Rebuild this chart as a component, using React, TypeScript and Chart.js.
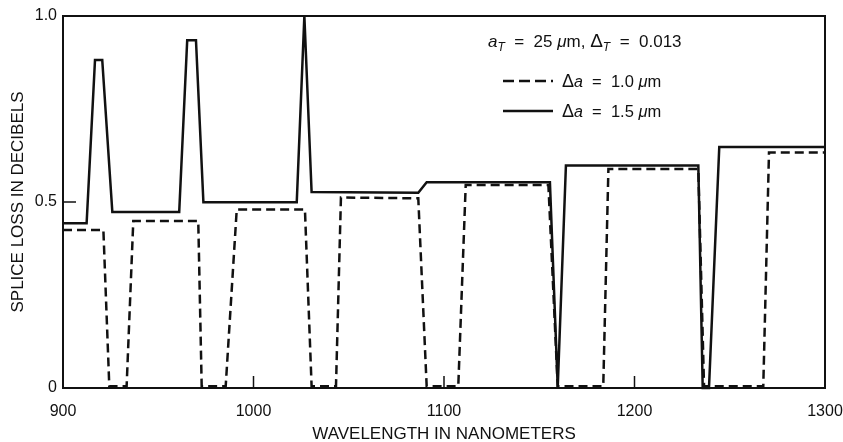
import React, { useEffect, useRef } from "react";
import { Chart, registerables } from "chart.js";

Chart.register(...registerables);

const xTicks = [900, 1000, 1100, 1200, 1300];
const yTicks = [0, 0.5, 1.0];
const yTickLabels = ["0", "0.5", "1.0"];
const innerXTicks = [1000, 1100, 1200];
const innerYTicks = [0.5];

// Δa = 1.0 µm (dashed)
const dashedWavelength = [900, 921.2, 924.3, 933.4, 936.9, 971.0, 972.8, 985.4, 991.2, 1027.0, 1030.5, 1043.3, 1045.9, 1086.5, 1090.9, 1107.5, 1111.4, 1154.8, 1159.7, 1183.6, 1186.3, 1233.5, 1236.5, 1267.6, 1270.6, 1300];
const dashedLoss = [0.425, 0.425, 0.005, 0.005, 0.449, 0.449, 0.005, 0.005, 0.48, 0.48, 0.005, 0.005, 0.512, 0.51, 0.005, 0.005, 0.546, 0.546, 0.005, 0.005, 0.589, 0.589, 0.005, 0.005, 0.633, 0.633];

// Δa = 1.5 µm (solid)
const solidWavelength = [900, 912.4, 916.8, 920.6, 925.9, 961.0, 965.2, 969.8, 973.7, 1022.7, 1026.7, 1030.5, 1086.5, 1090.9, 1155.6, 1159.7, 1164.0, 1233.5, 1235.8, 1239.1, 1244.5, 1300];
const solidLoss = [0.443, 0.443, 0.882, 0.882, 0.473, 0.473, 0.935, 0.935, 0.499, 0.499, 1.0, 0.527, 0.525, 0.553, 0.553, 0.002, 0.598, 0.598, 0.0, 0.0, 0.648, 0.648];

const FAMILY = '"Liberation Sans", Arial, Helvetica, sans-serif';
const INK = "#111";

const zip = (xs: number[], ys: number[]) => xs.map((x, i) => ({ x, y: ys[i] }));

const framePlugin = {
  id: "frameAndLegend",
  afterDraw(chart: any) {
    const { ctx, chartArea } = chart;
    const xs = chart.scales.x;
    const ys = chart.scales.y;
    ctx.save();
    ctx.strokeStyle = INK;
    ctx.lineWidth = 2;
    ctx.strokeRect(chartArea.left, chartArea.top, chartArea.right - chartArea.left, chartArea.bottom - chartArea.top);
    ctx.lineWidth = 1.5;
    innerXTicks.forEach((v) => {
      const px = xs.getPixelForValue(v);
      ctx.beginPath();
      ctx.moveTo(px, chartArea.bottom);
      ctx.lineTo(px, chartArea.bottom - 12);
      ctx.stroke();
    });
    innerYTicks.forEach((v) => {
      const py = ys.getPixelForValue(v);
      ctx.beginPath();
      ctx.moveTo(chartArea.left, py);
      ctx.lineTo(chartArea.left + 13, py);
      ctx.stroke();
    });

    // legend / annotation
    const f = (style: string, size: number) => `${style} ${size}px ${FAMILY}`;
    ctx.fillStyle = INK;
    ctx.textBaseline = "alphabetic";
    ctx.textAlign = "left";
    let x = 488;
    let y = 47;
    const put = (text: string, font: string, dy = 0) => {
      ctx.font = font;
      ctx.fillText(text, x, y + dy);
      x += ctx.measureText(text).width;
    };
    put("a", f("italic", 17));
    put("T", f("italic", 12), 4);
    put("  =  25 ", f("", 17));
    put("\u03BC", f("italic", 17));
    put("m, ", f("", 17));
    put("\u0394", f("", 19));
    put("T", f("italic", 12), 4);
    put("  =  0.013", f("", 17));

    // dashed sample
    ctx.lineWidth = 2.5;
    ctx.setLineDash([11, 5]);
    ctx.beginPath();
    ctx.moveTo(503, 81);
    ctx.lineTo(553, 81);
    ctx.stroke();
    ctx.setLineDash([]);
    x = 562;
    y = 87;
    put("\u0394", f("", 18));
    put("a", f("italic", 16));
    put("  =  1.0 ", f("", 16.5));
    put("\u03BC", f("italic", 16.5));
    put("m", f("", 16.5));

    ctx.beginPath();
    ctx.moveTo(503, 111);
    ctx.lineTo(553, 111);
    ctx.stroke();
    x = 562;
    y = 117;
    put("\u0394", f("", 18));
    put("a", f("italic", 16));
    put("  =  1.5 ", f("", 16.5));
    put("\u03BC", f("italic", 16.5));
    put("m", f("", 16.5));
    ctx.restore();
  },
};

export default function App() {
  const ref = useRef<HTMLCanvasElement | null>(null);
  useEffect(() => {
    if (!ref.current) return;
    const chart = new Chart(ref.current, {
      type: "line",
      data: {
        datasets: [
          {
            label: "\u0394a = 1.0 \u03BCm",
            data: zip(dashedWavelength, dashedLoss),
            borderColor: INK,
            borderWidth: 2.5,
            borderDash: [9, 5],
            pointRadius: 0,
            tension: 0,
            fill: false,
            clip: false as any,
          },
          {
            label: "\u0394a = 1.5 \u03BCm",
            data: zip(solidWavelength, solidLoss),
            borderColor: INK,
            borderWidth: 2.5,
            pointRadius: 0,
            tension: 0,
            fill: false,
            clip: false as any,
          },
        ],
      },
      options: {
        animation: false,
        responsive: false,
        events: [],
        layout: { padding: { top: 16, right: 18, left: 0, bottom: 0 } },
        plugins: { legend: { display: false }, tooltip: { enabled: false } },
        scales: {
          x: {
            type: "linear",
            min: 900,
            max: 1300,
            afterBuildTicks: (s: any) => {
              s.ticks = xTicks.map((v) => ({ value: v }));
            },
            afterFit: (s: any) => {
              s.height = 54;
              s.paddingLeft = 0;
              s.paddingRight = 0;
            },
            ticks: {
              color: INK,
              font: { family: FAMILY, size: 16 },
              padding: 14,
              maxRotation: 0,
              autoSkip: false,
              callback: (v: any) => String(v),
            },
            grid: { display: false, drawTicks: false },
            border: { display: false },
            title: {
              display: true,
              text: "WAVELENGTH IN NANOMETERS",
              color: INK,
              font: { family: FAMILY, size: 17 },
              padding: { top: 0, bottom: -3 },
            },
          },
          y: {
            type: "linear",
            min: 0,
            max: 1,
            afterBuildTicks: (s: any) => {
              s.ticks = yTicks.map((v) => ({ value: v }));
            },
            afterFit: (s: any) => {
              s.width = 63;
              s.paddingTop = 0;
              s.paddingBottom = 0;
            },
            ticks: {
              color: INK,
              font: { family: FAMILY, size: 16 },
              padding: 6,
              autoSkip: false,
              callback: (v: any) => {
                const i = yTicks.indexOf(Number(v));
                return i >= 0 ? yTickLabels[i] : "";
              },
            },
            grid: { display: false, drawTicks: false },
            border: { display: false },
            title: {
              display: true,
              text: "SPLICE LOSS IN DECIBELS",
              color: INK,
              font: { family: FAMILY, size: 17 },
              padding: { top: 8, bottom: 0 },
            },
          },
        },
      } as any,
      plugins: [framePlugin],
    });
    return () => chart.destroy();
  }, []);
  return (
    <div style={{ position: "absolute", left: 0, top: 0, width: 843, height: 442, background: "#fff" }}>
      <canvas ref={ref} width={843} height={442} style={{ display: "block" }} />
    </div>
  );
}
